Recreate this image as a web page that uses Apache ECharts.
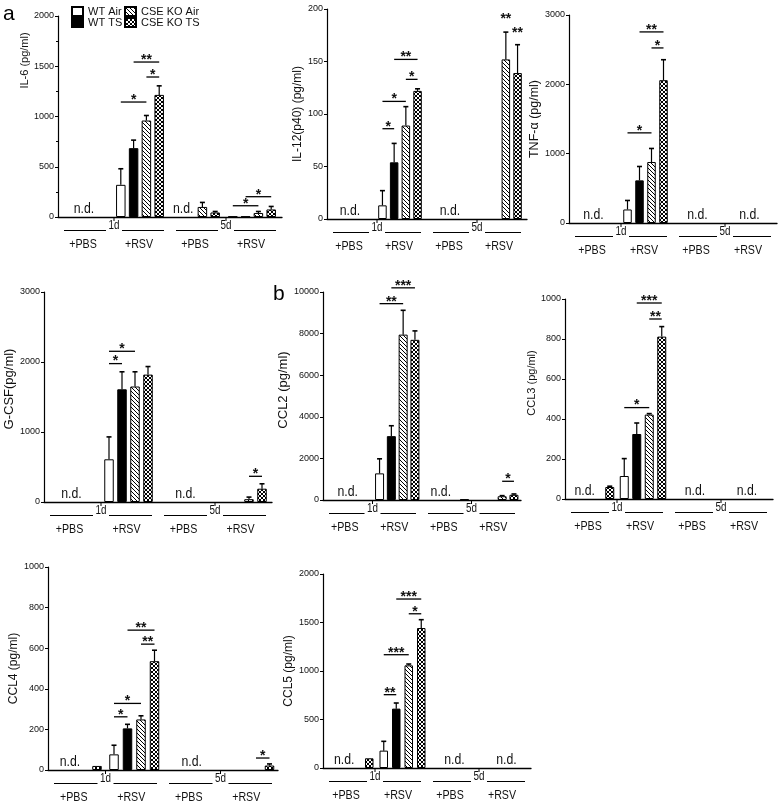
<!DOCTYPE html>
<html>
<head>
<meta charset="utf-8">
<script src="https://cdn.jsdelivr.net/npm/echarts@6.0.0/dist/echarts.min.js"></script>
<style>
html,body{margin:0;padding:0;background:#fff;}
#chart{width:780px;height:807px;}
</style>
</head>
<body>
<div id="chart"></div>
<script>
// ---------- shared labels ----------
const seriesNames = ['WT Air', 'WT TS', 'CSE KO Air', 'CSE KO TS'];
const groupLabels = ['+PBS', '+RSV', '+PBS', '+RSV'];
const dayLabels = ['1d', '5d'];
const notDetected = 'n.d.';
// groups: 0 = 1d +PBS, 1 = 1d +RSV, 2 = 5d +PBS, 3 = 5d +RSV ; null = n.d.

// ---------- IL-6 ----------
const il6Ticks = [0, 500, 1000, 1500, 2000];
const il6Values = [
  [null, 320, null, 5],
  [null, 685, null, 5],
  [null, 960, 100, 40],
  [null, 1215, 45, 75]
];
const il6Errors = [
  [0, 160, 0, 0],
  [0, 80, 0, 0],
  [0, 50, 45, 15],
  [0, 90, 10, 30]
];
const il6Sig = [[1, 0, 2, 1144, '*'], [1, 1, 3, 1542, '**'], [1, 2, 3, 1393, '*'], [3, 0, 2, 112, '*'], [3, 1, 3, 202, '*']];

// ---------- IL-12(p40) ----------
const il12Ticks = [0, 50, 100, 150, 200];
const il12Values = [
  [null, 13, null, 0],
  [null, 54, null, 0],
  [null, 89, null, 152],
  [null, 122, null, 139]
];
const il12Errors = [
  [0, 14, 0, 0],
  [0, 18, 0, 0],
  [0, 18, 0, 26],
  [0, 2, 0, 27]
];
const il12Sig = [[1, 0, 1, 86, '*'], [1, 0, 2, 112, '*'], [1, 1, 3, 152, '**'], [1, 2, 3, 133, '*'], [3, 2, 2, 188, '**'], [3, 3, 3, 175, '**']];

// ---------- TNF-a ----------
const tnfTicks = [0, 1000, 2000, 3000];
const tnfValues = [
  [null, 195, null, null],
  [null, 615, null, null],
  [null, 880, null, null],
  [null, 2060, null, null]
];
const tnfErrors = [
  [0, 130, 0, 0],
  [0, 200, 0, 0],
  [0, 195, 0, 0],
  [0, 295, 0, 0]
];
const tnfSig = [[1, 0, 2, 1300, '*'], [1, 1, 3, 2756, '**'], [1, 2, 3, 2525, '*']];

// ---------- G-CSF ----------
const gcsfTicks = [0, 1000, 2000, 3000];
const gcsfValues = [
  [null, 610, null, 0],
  [null, 1610, null, 0],
  [null, 1650, null, 40],
  [null, 1820, null, 190]
];
const gcsfErrors = [
  [0, 320, 0, 0],
  [0, 250, 0, 0],
  [0, 210, 0, 30],
  [0, 115, 0, 70]
];
const gcsfSig = [[1, 0, 1, 1977, '*'], [1, 0, 2, 2153, '*'], [3, 2, 3, 367, '*']];

// ---------- CCL2 ----------
const ccl2Ticks = [0, 2000, 4000, 6000, 8000, 10000];
const ccl2Values = [
  [null, 1280, null, 0],
  [null, 3070, null, 0],
  [null, 7950, null, 180],
  [null, 7700, 30, 250]
];
const ccl2Errors = [
  [0, 700, 0, 0],
  [0, 500, 0, 0],
  [0, 1170, 0, 30],
  [0, 430, 0, 40]
];
const ccl2Sig = [[1, 0, 2, 9440, '**'], [1, 1, 3, 10200, '***'], [3, 2, 3, 900, '*']];

// ---------- CCL3 ----------
const ccl3Ticks = [0, 200, 400, 600, 800, 1000];
const ccl3Values = [
  [null, 115, null, null],
  [null, 325, null, null],
  [null, 422, null, null],
  [60, 812, null, null]
];
const ccl3Errors = [
  [0, 87, 0, 0],
  [0, 55, 0, 0],
  [0, 5, 0, 0],
  [4, 50, 0, 0]
];
const ccl3Sig = [[1, 0, 2, 457, '*'], [1, 1, 3, 980, '***'], [1, 2, 3, 900, '**']];

// ---------- CCL4 ----------
const ccl4Ticks = [0, 200, 400, 600, 800, 1000];
const ccl4Values = [
  [null, 77, null, 0],
  [null, 205, null, 0],
  [null, 249, null, 0],
  [20, 536, null, 22]
];
const ccl4Errors = [
  [0, 45, 0, 0],
  [0, 20, 0, 0],
  [0, 18, 0, 0],
  [0, 54, 0, 8]
];
const ccl4Sig = [[1, 0, 1, 262, '*'], [1, 0, 2, 328, '*'], [1, 1, 3, 689, '**'], [1, 2, 3, 620, '**'], [3, 2, 3, 59, '*']];

// ---------- CCL5 ----------
const ccl5Ticks = [0, 500, 1000, 1500, 2000];
const ccl5Values = [
  [null, 179, null, null],
  [null, 612, null, null],
  [null, 1058, null, null],
  [100, 1443, null, null]
];
const ccl5Errors = [
  [0, 96, 0, 0],
  [0, 58, 0, 0],
  [0, 14, 0, 0],
  [0, 86, 0, 0]
];
const ccl5Sig = [[1, 0, 1, 756, '**'], [1, 0, 2, 1168, '***'], [1, 1, 3, 1742, '***'], [1, 2, 3, 1590, '*']];

// ---------- layout / style ----------
const NARROW = "'Liberation Sans Narrow', 'Arial Narrow', 'Liberation Sans', Arial, sans-serif";
const SANS = "'Liberation Sans', Arial, sans-serif";
const INK = '#111';
const SQUEEZE = 0.82; // horizontal squeeze to imitate a condensed face

const panels = [
  {title: 'IL-6 (pg/ml)', ticks: il6Ticks, values: il6Values, errors: il6Errors, sig: il6Sig,
   grid: {left: 58, top: 16, width: 224, height: 201}, slot: 12.8, bw: 9.5, dx: -2, nameGap: 24, nameShift: 56, nameSize: 11, minor: true},
  {title: 'IL-12(p40) (pg/ml)', ticks: il12Ticks, values: il12Values, errors: il12Errors, sig: il12Sig,
   grid: {left: 327, top: 9, width: 200, height: 210}, slot: 11.7, bw: 8.5, dx: -2, nameGap: 16, nameShift: 0, nameSize: 12},
  {title: 'TNF-\u03b1 (pg/ml)', ticks: tnfTicks, values: tnfValues, errors: tnfErrors, sig: tnfSig,
   grid: {left: 569, top: 15, width: 208, height: 208}, slot: 12, bw: 8.5, dx: -1.5, nameGap: 22, nameShift: 0, nameSize: 12.5},
  {title: 'G-CSF(pg/ml)', ticks: gcsfTicks, values: gcsfValues, errors: gcsfErrors, sig: gcsfSig,
   grid: {left: 44, top: 292, width: 228, height: 210}, slot: 13, bw: 9.5, dx: -1, nameGap: 22, nameShift: 8, nameSize: 13},
  {title: 'CCL2 (pg/ml)', ticks: ccl2Ticks, values: ccl2Values, errors: ccl2Errors, sig: ccl2Sig,
   grid: {left: 323, top: 292, width: 198, height: 208}, slot: 11.8, bw: 9, dx: 0, nameGap: 26, nameShift: 6, nameSize: 13},
  {title: 'CCL3 (pg/ml)', ticks: ccl3Ticks, values: ccl3Values, errors: ccl3Errors, sig: ccl3Sig,
   grid: {left: 565, top: 299, width: 208, height: 200}, slot: 12.5, bw: 9, dx: 0, nameGap: 23, nameShift: 16, nameSize: 11},
  {title: 'CCL4 (pg/ml)', ticks: ccl4Ticks, values: ccl4Values, errors: ccl4Errors, sig: ccl4Sig,
   grid: {left: 48, top: 567, width: 230, height: 203}, slot: 13.5, bw: 9.5, dx: 0, nameGap: 26, nameShift: 0, nameSize: 12},
  {title: 'CCL5 (pg/ml)', ticks: ccl5Ticks, values: ccl5Values, errors: ccl5Errors, sig: ccl5Sig,
   grid: {left: 323, top: 574, width: 208, height: 194}, slot: 12.5, bw: 8.5, dx: 1.5, nameGap: 24, nameShift: 0, nameSize: 12}
];

// fill patterns
function makePattern(kind) {
  const c = document.createElement('canvas');
  const s = 4;
  c.width = s; c.height = s;
  const ctx = c.getContext('2d');
  ctx.fillStyle = '#fff';
  ctx.fillRect(0, 0, s, s);
  ctx.strokeStyle = '#000';
  ctx.lineWidth = 1;
  ctx.beginPath();
  ctx.moveTo(-1, -1); ctx.lineTo(s + 1, s + 1);
  ctx.moveTo(-1, s - 1); ctx.lineTo(1, s + 1);
  ctx.moveTo(s - 1, -1); ctx.lineTo(s + 1, 1);
  if (kind === 'cross') {
    ctx.moveTo(-1, s + 1); ctx.lineTo(s + 1, -1);
    ctx.moveTo(-1, 1); ctx.lineTo(1, -1);
    ctx.moveTo(s - 1, s + 1); ctx.lineTo(s + 1, s - 1);
  }
  ctx.stroke();
  return {image: c, repeat: 'repeat'};
}
const barStyles = [
  {color: '#fff', borderColor: '#000', borderWidth: 1},
  {color: '#000', borderColor: '#000', borderWidth: 1},
  {color: makePattern('hatch'), borderColor: '#000', borderWidth: 1},
  {color: makePattern('cross'), borderColor: '#000', borderWidth: 1}
];

function slotX(p, g, k) {
  const w = p.grid.width / 4;
  return g + 0.5 + ((k - 1.5) * p.slot + p.dx) / w;
}

function lineEl(x1, y1, x2, y2, w) {
  return {type: 'line', shape: {x1: x1, y1: y1, x2: x2, y2: y2}, style: {stroke: '#000', lineWidth: w || 1}};
}
function textEl(text, x, y, size, va, fam, sx, weight) {
  return {type: 'text', x: x, y: y, scaleX: sx || 1,
    style: {text: text, x: 0, y: 0, align: 'center', verticalAlign: va || 'middle',
      fontSize: size, fontFamily: fam || SANS, fontWeight: weight || 'normal', fill: INK}};
}

const legendText = {fontSize: 11, fontFamily: NARROW, color: INK};
const option = {
  animation: false,
  backgroundColor: '#fff',
  grid: [], xAxis: [], yAxis: [], series: [],
  legend: [
    {data: ['WT Air', 'WT TS'], orient: 'vertical', left: 66, top: 1, itemWidth: 11, itemHeight: 9, itemGap: 0,
     icon: 'rect', selectedMode: false, textStyle: legendText},
    {data: ['CSE KO Air', 'CSE KO TS'], orient: 'vertical', left: 119, top: 1, itemWidth: 11, itemHeight: 9, itemGap: 0,
     icon: 'rect', selectedMode: false, textStyle: legendText}
  ],
  graphic: [
    {type: 'text', left: 3, top: 4, style: {text: 'a', fontSize: 21, fontFamily: SANS, fill: '#000'}},
    {type: 'text', left: 273, top: 284, style: {text: 'b', fontSize: 21, fontFamily: SANS, fill: '#000'}}
  ]
};

panels.forEach(function (p, i) {
  const t = p.ticks;
  option.grid.push({left: p.grid.left, top: p.grid.top, width: p.grid.width, height: p.grid.height,
    outerBoundsMode: 'none', containLabel: false});
  option.xAxis.push({gridIndex: i, type: 'value', min: 0, max: 4,
    axisLine: {show: true, onZero: false, lineStyle: {color: '#000', width: 1.3}},
    axisTick: {show: false}, axisLabel: {show: false}, splitLine: {show: false}});
  option.yAxis.push({gridIndex: i, type: 'value', min: t[0], max: t[t.length - 1], interval: t[1] - t[0],
    name: p.title, nameLocation: 'middle', nameGap: p.nameGap, nameRotate: 90,
    nameTextStyle: {fontSize: p.nameSize, fontFamily: SANS, color: INK, padding: [0, 0, 0, 2 * p.nameShift]},
    axisLine: {show: true, lineStyle: {color: '#000', width: 1.2}},
    axisTick: {show: true, length: 3, lineStyle: {color: '#000'}},
    minorTick: {show: !!p.minor, splitNumber: 2, length: 2, lineStyle: {color: '#000'}},
    axisLabel: {fontSize: 9, fontFamily: NARROW, color: INK, margin: 4, formatter: function (v) { return String(v); }},
    splitLine: {show: false}});

  // bars
  seriesNames.forEach(function (name, k) {
    const data = [];
    p.values[k].forEach(function (v, g) {
      if (v !== null && v > 0) data.push([slotX(p, g, k), v]);
    });
    option.series.push({type: 'bar', name: name, xAxisIndex: i, yAxisIndex: i, data: data,
      barWidth: p.bw, barGap: '-100%', itemStyle: barStyles[k], silent: true, z: 2});
  });

  // error bars
  const errData = [];
  p.values.forEach(function (arr, k) {
    arr.forEach(function (v, g) {
      const e = p.errors[k][g];
      if (v !== null && e > 0) errData.push([slotX(p, g, k), v, e]);
    });
  });
  option.series.push({type: 'custom', xAxisIndex: i, yAxisIndex: i, data: errData, silent: true, z: 3,
    renderItem: function (params, api) {
      const x = api.value(0), v = api.value(1), e = api.value(2);
      const a = api.coord([x, v]), b = api.coord([x, v + e]);
      return {type: 'group', children: [
        lineEl(a[0], a[1], b[0], b[1], 1.2),
        lineEl(b[0] - 2.5, b[1], b[0] + 2.5, b[1], 1.6)
      ]};
    }});

  // significance brackets
  const sigData = p.sig.map(function (s) { return [slotX(p, s[0], s[1]), s[3], slotX(p, s[0], s[2])]; });
  option.series.push({type: 'custom', xAxisIndex: i, yAxisIndex: i, data: sigData, silent: true, z: 4,
    renderItem: function (params, api) {
      const s = p.sig[params.dataIndex];
      const a = api.coord([api.value(0), api.value(1)]);
      const b = api.coord([api.value(2), api.value(1)]);
      const ch = [];
      if (s[1] !== s[2]) ch.push(lineEl(a[0], a[1], b[0], b[1], 1.3));
      ch.push(textEl(s[4], (a[0] + b[0]) / 2, a[1] + 5, 14, 'bottom', SANS, 1, 'bold'));
      return {type: 'group', children: ch};
    }});

  // axis decorations: day ticks, day labels with rules, group labels, n.d.
  option.series.push({type: 'custom', xAxisIndex: i, yAxisIndex: i, data: [[0, 0]], silent: true, z: 5,
    renderItem: function (params, api) {
      const ch = [];
      const y0 = api.coord([0, t[0]])[1];
      [1, 3].forEach(function (b, d) {
        const x = api.coord([b, t[0]])[0];
        const xs = api.coord([b - 1, t[0]])[0];
        const xe = api.coord([b + 1, t[0]])[0];
        ch.push(lineEl(x, y0, x, y0 + 4, 1));
        const ly = y0 + 13.5;
        ch.push(lineEl(xs + 6, ly, x - 8, ly, 1.2));
        ch.push(lineEl(x + 8, ly, xe - 6, ly, 1.2));
        ch.push(textEl(dayLabels[d], x, y0 + 8.5, 12, 'middle', SANS, SQUEEZE));
      });
      groupLabels.forEach(function (lab, g) {
        const x = api.coord([g + 0.5, t[0]])[0] - 3;
        ch.push(textEl(lab, x, y0 + 27, 13, 'middle', SANS, SQUEEZE));
      });
      for (let g = 0; g < 4; g++) {
        let k = 0;
        while (k < 4) {
          if (p.values[k][g] === null) {
            let e = k;
            while (e + 1 < 4 && p.values[e + 1][g] === null) e++;
            const xm = (slotX(p, g, k) + slotX(p, g, e)) / 2;
            const x = api.coord([xm, t[0]])[0];
            ch.push(textEl(notDetected, x, y0 - 1, 15, 'bottom', SANS, SQUEEZE));
            k = e + 1;
          } else {
            k++;
          }
        }
      }
      return {type: 'group', children: ch};
    }});
});

const chart = echarts.init(document.getElementById('chart'), null, {renderer: 'canvas'});
chart.setOption(option);
</script>
</body>
</html>
